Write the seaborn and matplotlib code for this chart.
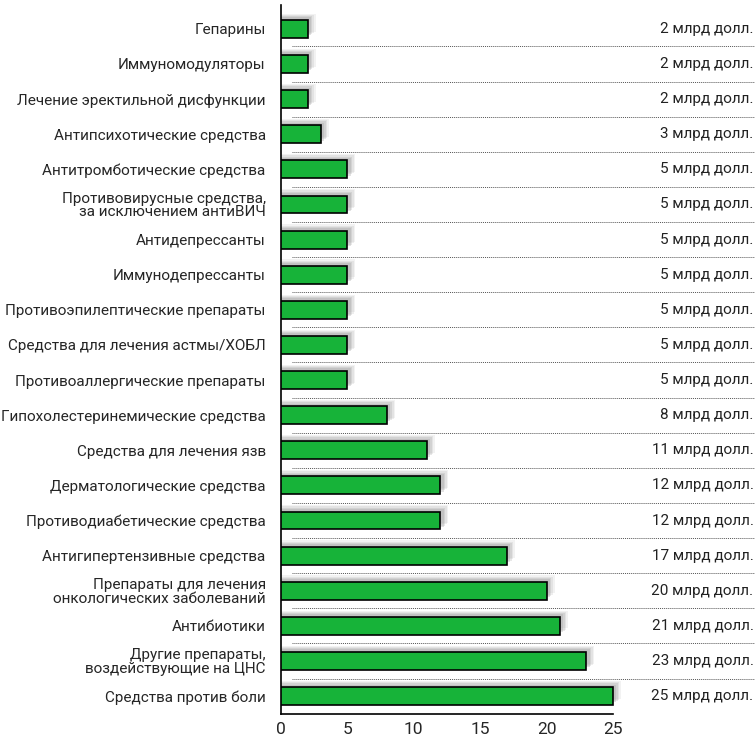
import matplotlib
matplotlib.use('Agg')
import matplotlib.pyplot as plt
import seaborn as sns
import pandas as pd

categories = [
    'Гепарины',
    'Иммуномодуляторы',
    'Лечение эректильной дисфункции',
    'Антипсихотические средства',
    'Антитромботические средства',
    'Противовирусные средства,\nза исключением антиВИЧ',
    'Антидепрессанты',
    'Иммунодепрессанты',
    'Противоэпилептические препараты',
    'Средства для лечения астмы/ХОБЛ',
    'Противоаллергические препараты',
    'Гипохолестеринемические средства',
    'Средства для лечения язв',
    'Дерматологические средства',
    'Противодиабетические средства',
    'Антигипертензивные средства',
    'Препараты для лечения\nонкологических заболеваний',
    'Антибиотики',
    'Другие препараты,\nвоздействующие на ЦНС',
    'Средства против боли',
]
values = [2, 2, 2, 3, 5, 5, 5, 5, 5, 5, 5, 8, 11, 12, 12, 17, 20, 21, 23, 25]
xticks = [0, 5, 10, 15, 20, 25]
unit = 'млрд долл.'

df = pd.DataFrame({'category': categories, 'value': values})

sns.set_style('white')
plt.rcParams['font.family'] = ['Roboto', 'DejaVu Sans']

fig = plt.figure(figsize=(7.55, 7.41), dpi=100)
ax = fig.add_axes([281 / 755, 27 / 741, 1 - 281 / 755, 709 / 741])

# soft shadow behind the bars (offset up and to the right)
pos = list(range(len(values)))
for k, a in enumerate([0.12, 0.16, 0.22, 0.28]):
    dx = 0.6 - k * 0.12
    dy = 0.18 - k * 0.035
    ax.barh([p - dy for p in pos], [v + dx for v in values], height=0.51,
            color='#9a9a9a', alpha=a, linewidth=0, zorder=1)

sns.barplot(data=df, x='value', y='category', color='#17b339', saturation=1,
            edgecolor='black', linewidth=1.2, width=0.51, ax=ax, zorder=3)

# dotted separators and value labels
for i in range(len(values) - 1):
    ax.plot([0.8, 40], [i + 0.5, i + 0.5], linestyle=(0, (1, 1)),
            color='#555555', linewidth=0.7, zorder=2)
for i, v in enumerate(values):
    ax.text(0.997, i, f'{v} {unit}', transform=ax.get_yaxis_transform(),
            ha='right', va='center', fontsize=11, color='#222222')

ax.set_xlim(0, 474 / 13.28)
ax.set_ylim(19.51, -0.68)
ax.set_xticks(xticks)
ax.set_xticklabels([str(t) for t in xticks], fontsize=12.5)
ax.tick_params(axis='x', direction='in', length=8, width=1.2, color='#555555', pad=6)
ax.tick_params(axis='y', length=0, pad=11, labelsize=11)
for lab in ax.get_yticklabels():
    lab.set_linespacing(0.95)
ax.set_xlabel('')
ax.set_ylabel('')
for s in ['top', 'right']:
    ax.spines[s].set_visible(False)
ax.spines['bottom'].set_bounds(0, 25)
ax.spines['left'].set_linewidth(1.2)
ax.spines['bottom'].set_linewidth(1.2)
ax.spines['left'].set_color('black')
ax.spines['bottom'].set_color('black')

fig.savefig('out.png', dpi=100)
